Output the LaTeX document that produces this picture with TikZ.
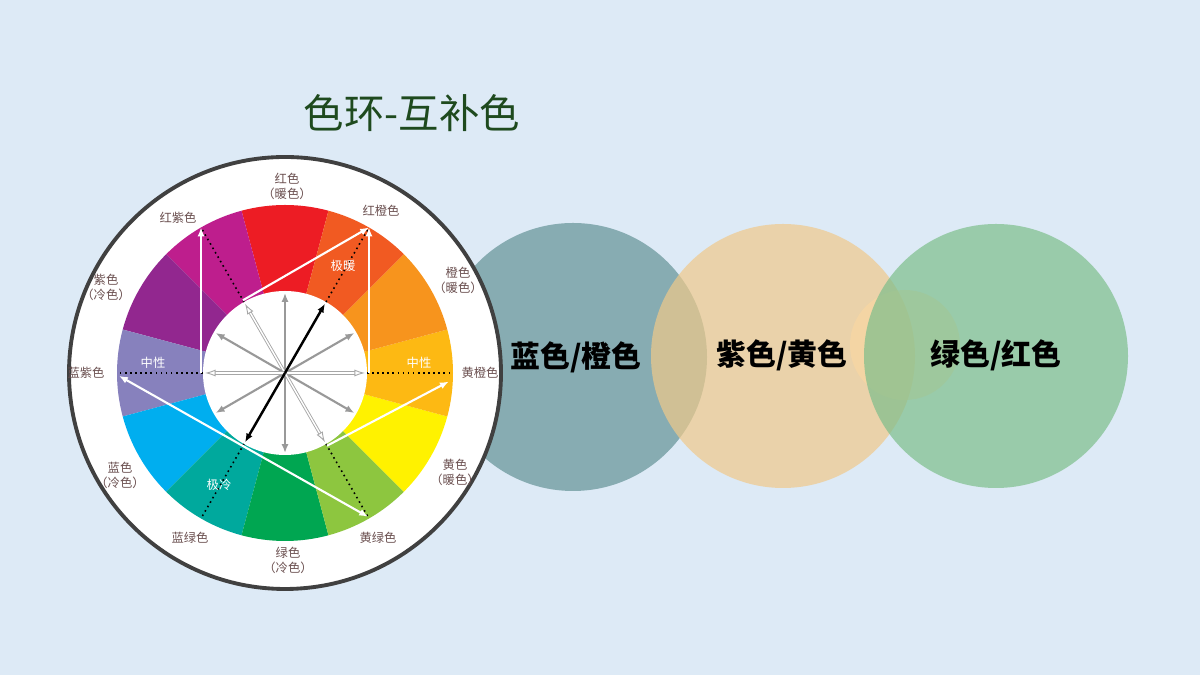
\documentclass[tikz,border=0pt]{standalone}
\usepackage{fontspec}
\setmainfont{Noto Sans CJK SC}
\usetikzlibrary{calc,arrows.meta}
\definecolor{bgblue}{HTML}{DDEAF6}
\definecolor{lbl}{HTML}{6B5050}
\definecolor{titlegreen}{HTML}{1E4A1E}
\definecolor{pairteal}{HTML}{4F8385}
\definecolor{pairtan}{HTML}{F0C98A}
\definecolor{pairlogo}{HTML}{FFD9A0}
\definecolor{pairgreen}{HTML}{7DBE8B}
\tikzset{
  wheellabel/.style={text=lbl, font=\fontsize{7}{8.5}\selectfont, align=center},
  innerlabel/.style={text=white, font=\fontsize{7}{8.5}\selectfont},
  pairlabel/.style={font=\fontsize{17}{20}\selectfont\bfseries},
  whitearrow/.style={white, line width=1.2pt, -{Latex[length=5pt,width=4pt]}},
  ringdots/.style={black, line width=0.9pt, dotted},
  grayarrow/.style={gray!80, line width=1.2pt, -{Latex[length=5pt,width=4pt]}},
  hollowarrow/.style={gray!70, line width=0.5pt, double=white, double distance=0.8pt, -{Latex[open,length=6pt,width=4pt,fill=white]}},
  blackarrow/.style={black, line width=1.4pt, -{Latex[length=5pt,width=4pt]}},
}
\begin{document}
\begin{tikzpicture}[x=0.02cm,y=0.02cm]
  \fill[bgblue] (0,0) rectangle (1200,675);
  \useasboundingbox (0,0) rectangle (1200,675);

  % pair circles
  \fill[pairteal, fill opacity=0.6] (573,318) circle (134);
  \fill[pairtan, fill opacity=0.7] (783,319) circle (132);
  \fill[pairlogo, fill opacity=0.5] (905,330) circle (55);
  \fill[pairgreen, fill opacity=0.7] (996,319) circle (132);

  \node[text=titlegreen, font=\fontsize{23}{26}\selectfont] (title) at (412,562) {色环-互补色};
  \node[pairlabel] (pairA) at (576,318) {蓝色/橙色};
  \node[pairlabel] (pairB) at (782,320) {紫色/黄色};
  \node[pairlabel] (pairC) at (996,320) {绿色/红色};

  % wheel
  \coordinate (C) at (285,302);
  \fill[white, draw=black!75, line width=2.2pt] (C) circle (216);
  \foreach \a/\c in {90/ED1C24, 120/BE1E8D, 150/92278F, 180/8781BD, 210/00AEEF, 240/00A99D,
                     270/00A651, 300/8DC63F, 330/FFF200, 0/FDB913, 30/F7941D, 60/F15A22}{
    \definecolor{seg}{HTML}{\c}
    \fill[seg] (C) -- ($(C)+(\a-15:168)$) arc[start angle=\a-15, end angle=\a+15, radius=168] -- cycle;
  }
  \fill[white] (C) circle (82);

  % dotted lines in the ring
  \foreach \a in {0,60,120,180,240,300}
    \draw[ringdots] ($(C)+(\a:82)$) -- ($(C)+(\a:168)$);

  % arrows in the ring
  \coordinate (rv) at ($(C)+(120:168)$);
  \coordinate (ro) at ($(C)+(60:168)$);
  \draw[whitearrow] (rv |- C) -- (rv);
  \draw[whitearrow] (ro |- C) -- (ro);
  \draw[whitearrow] ($(C)+(120:84)$) -- (ro);
  \draw[whitearrow] ($(C)+(300:84)$) -- ($(C)+(-3:164)$);
  \draw[whitearrow, {Latex[length=5pt,width=4pt]}-{Latex[length=5pt,width=4pt]}] ($(C)+(181:166)$) -- ($(C)+(300:166)$);

  % arrows in the middle
  \foreach \a in {30,90,150,210,270,330}
    \draw[grayarrow] (C) -- ($(C)+(\a:80)$);
  \foreach \a in {0,120,180,300}
    \draw[hollowarrow] (C) -- ($(C)+(\a:80)$);
  \foreach \a in {60,240}
    \draw[blackarrow] (C) -- ($(C)+(\a:80)$);

  \node[innerlabel] (neutL) at (153,312) {中性};
  \node[innerlabel] (neutR) at (419,312) {中性};
  \node[innerlabel] (warm) at (343,409) {极暖};
  \node[innerlabel] (cold) at (219,190) {极冷};

  % labels round the wheel
  \node[wheellabel] (red) at (287,489) {红色\\（暖色）};
  \node[wheellabel] (redorange) at (381,464) {红橙色};
  \node[wheellabel] (orange) at (458,395) {橙色\\（暖色）};
  \node[wheellabel] (yelloworange) at (480,302) {黄橙色};
  \node[wheellabel] (yellow) at (455,203) {黄色\\（暖色）};
  \node[wheellabel] (yellowgreen) at (378,137) {黄绿色};
  \node[wheellabel] (green) at (288,115) {绿色\\（冷色）};
  \node[wheellabel] (bluegreen) at (190,137) {蓝绿色};
  \node[wheellabel] (blue) at (120,200) {蓝色\\（冷色）};
  \node[wheellabel] (blueviolet) at (86,302) {蓝紫色};
  \node[wheellabel] (violet) at (106,388) {紫色\\（冷色）};
  \node[wheellabel] (redviolet) at (178,457) {红紫色};
\end{tikzpicture}
\end{document}
